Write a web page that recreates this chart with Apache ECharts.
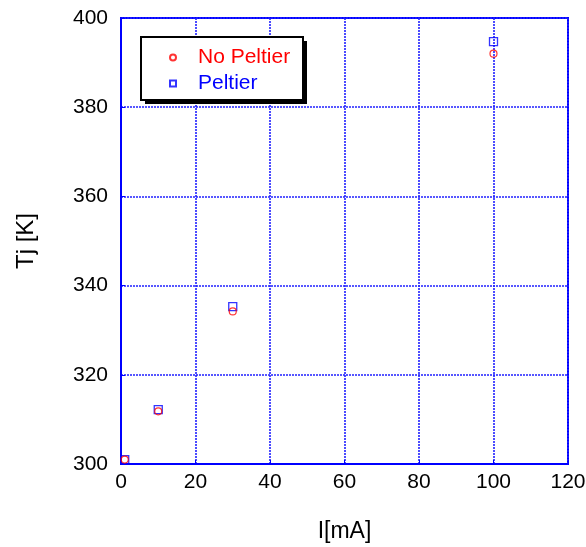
<!DOCTYPE html>
<html>
<head>
<meta charset="utf-8">
<script src="https://cdn.jsdelivr.net/npm/echarts@6/dist/echarts.min.js"></script>
<style>html,body{margin:0;padding:0;background:#fff;}#c{width:586px;height:547px;}</style>
</head>
<body>
<div id="c"></div>
<script>
const currentmA = [1, 10, 30, 100];
const tjNoPeltier = [301, 311.8, 334.2, 392];
const tjPeltier = [301, 312.2, 335.3, 394.7];
const seriesNames = ['No Peltier', 'Peltier'];
const xTicks = [0, 20, 40, 60, 80, 100, 120];
const yTicks = [300, 320, 340, 360, 380, 400];

const FONT = '"Liberation Sans", Arial, sans-serif';
const BLUE = '#0000ff';
const RED = '#ff0000';

const chart = echarts.init(document.getElementById('c'), null, {renderer: 'canvas'});
chart.setOption({
  backgroundColor: '#fff',
  animation: false,
  grid: {left: 121, right: 18, top: 18, bottom: 83, containLabel: false, outerBoundsMode: 'none',
         show: true, borderColor: BLUE, borderWidth: 2, backgroundColor: 'transparent'},
  graphic: [
    {type: 'rect', z: 5, shape: {x: 145, y: 41, width: 162, height: 63}, style: {fill: '#000'}},
    {type: 'rect', z: 6, shape: {x: 141, y: 37, width: 162, height: 63}, style: {fill: '#fff', stroke: '#000', lineWidth: 2}}
  ],
  xAxis: {
    type: 'value', min: xTicks[0], max: xTicks[xTicks.length - 1], interval: 20,
    name: 'I[mA]', nameLocation: 'middle', nameGap: 56,
    nameTextStyle: {fontFamily: FONT, fontSize: 23, color: '#000'},
    axisLine: {show: true, lineStyle: {color: BLUE, width: 2}},
    axisTick: {show: true, inside: true, length: 4, lineStyle: {color: BLUE, width: 1}},
    axisLabel: {fontFamily: FONT, fontSize: 21, color: '#000', margin: 8},
    splitLine: {show: true, lineStyle: {color: '#2020ff', type: [2, 1], width: 1.6}}
  },
  yAxis: {
    type: 'value', min: yTicks[0], max: yTicks[yTicks.length - 1], interval: 20,
    name: 'Tj [K]', nameLocation: 'middle', nameGap: 83, nameRotate: 90,
    nameTextStyle: {fontFamily: FONT, fontSize: 24, color: '#000'},
    axisLine: {show: true, lineStyle: {color: BLUE, width: 2}},
    axisTick: {show: true, inside: true, length: 4, lineStyle: {color: BLUE, width: 1}},
    axisLabel: {fontFamily: FONT, fontSize: 21, color: '#000', margin: 13},
    splitLine: {show: true, lineStyle: {color: '#2020ff', type: [2, 1], width: 1.6}}
  },
  legend: {
    z: 10,
    orient: 'vertical', left: 141, top: 37,
    padding: [10, 11, 7, 28], itemGap: 5,
    itemWidth: 6, itemHeight: 6,
    backgroundColor: 'transparent', borderWidth: 0,
    textStyle: {fontFamily: FONT, fontSize: 21, lineHeight: 21, padding: [0, 0, 0, 17]},
    data: [
      {name: seriesNames[0], icon: 'circle', textStyle: {color: RED}},
      {name: seriesNames[1], icon: 'rect', textStyle: {color: BLUE}}
    ]
  },
  series: [
    {
      name: seriesNames[0], type: 'scatter', symbol: 'circle', symbolSize: 7,
      itemStyle: {color: 'rgba(255,255,255,0)', borderColor: RED, borderWidth: 1.2},
      data: currentmA.map((x, i) => [x, tjNoPeltier[i]]), z: 3
    },
    {
      name: seriesNames[1], type: 'scatter', symbol: 'rect', symbolSize: 8,
      itemStyle: {color: 'rgba(255,255,255,0)', borderColor: BLUE, borderWidth: 1.3},
      data: currentmA.map((x, i) => [x, tjPeltier[i]]), z: 2
    }
  ]
});
</script>
</body>
</html>
